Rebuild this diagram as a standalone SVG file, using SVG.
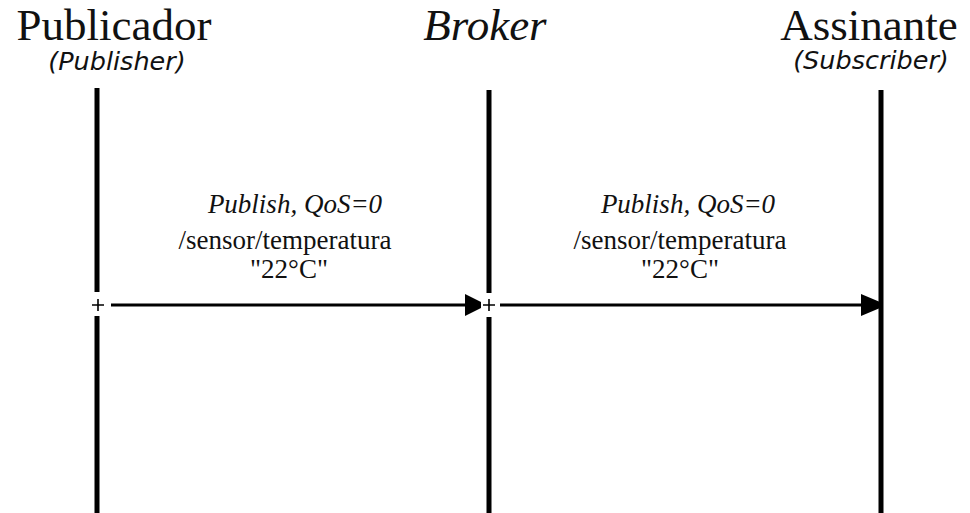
<svg xmlns="http://www.w3.org/2000/svg" width="970" height="513" viewBox="0 0 970 513">
  <style>
    .title { font-family: "Liberation Serif", "Times New Roman", serif; font-size: 45px; fill: #111; text-anchor: middle; }
    .sub { font-family: "DejaVu Sans", Verdana, sans-serif; font-style: italic; font-size: 25.5px; fill: #111; text-anchor: middle; }
    .life { stroke: #000; stroke-width: 5; fill: none; }
    .plus { stroke: #000; stroke-width: 1.6; fill: none; }
    .msg { stroke: #000; stroke-width: 3; fill: none; }
    .head { fill: #000; }
    .lbl { font-family: "Liberation Serif", "Times New Roman", serif; font-size: 27px; fill: #111; text-anchor: middle; }
    .it { font-style: italic; }
  </style>
  <rect width="970" height="513" fill="#fff"/>

  <!-- Publisher participant -->
  <g id="publicador">
    <text class="title" x="114" y="40">Publicador</text>
    <text class="sub" x="117" y="70">(Publisher)</text>
    <line class="life" x1="97" y1="88" x2="97" y2="292"/>
    <line class="life" x1="97" y1="316" x2="97" y2="513"/>
    <path class="plus" d="M92 305 H104 M98 299 V311"/>
  </g>

  <!-- Broker participant -->
  <g id="broker">
    <text class="title it" x="485" y="40">Broker</text>
    <line class="life" x1="489" y1="90" x2="489" y2="293"/>
    <line class="life" x1="489" y1="317" x2="489" y2="513"/>
    <path class="plus" d="M483 305 H495 M489 299 V311"/>
  </g>

  <!-- Subscriber participant -->
  <g id="assinante">
    <text class="title" x="869" y="40">Assinante</text>
    <text class="sub" x="871" y="69">(Subscriber)</text>
    <line class="life" x1="881" y1="90" x2="881" y2="513"/>
  </g>

  <!-- Messages -->
  <g id="connectors">
    <line class="msg" x1="111" y1="305" x2="468" y2="305"/>
    <polygon class="head" points="465,294 481,302 481,308 465,316"/>
    <line class="msg" x1="500" y1="305" x2="864" y2="305"/>
    <polygon class="head" points="861,294 880,302 880,308 861,316"/>

    <text class="lbl it" x="295" y="213">Publish, QoS=0</text>
    <text class="lbl" x="285" y="249">/sensor/temperatura</text>
    <text class="lbl" x="289" y="278">"22°C"</text>

    <text class="lbl it" x="688" y="213">Publish, QoS=0</text>
    <text class="lbl" x="680" y="249">/sensor/temperatura</text>
    <text class="lbl" x="680" y="278">"22°C"</text>
  </g>
</svg>
